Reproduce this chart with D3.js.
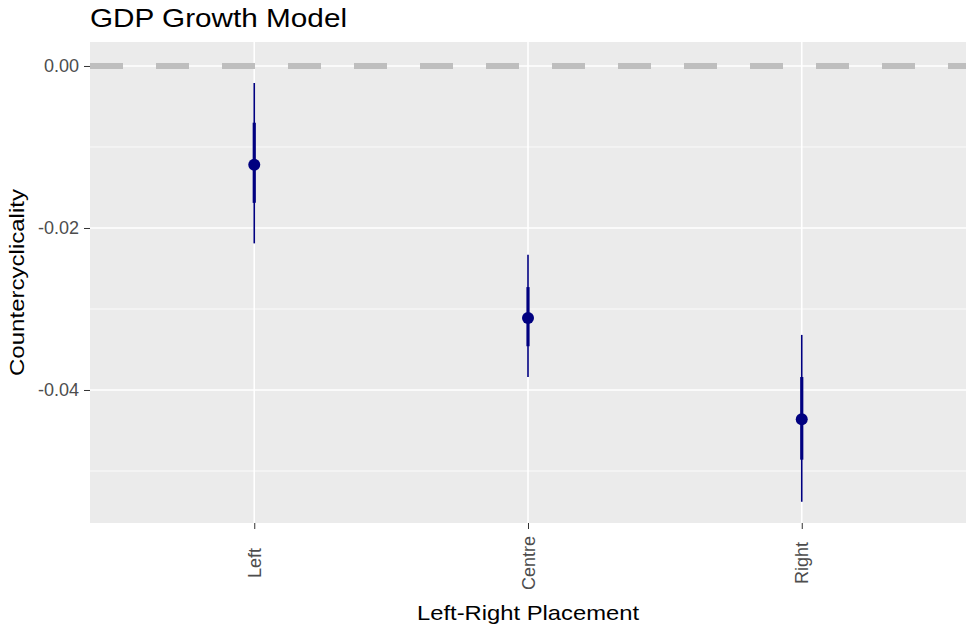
<!DOCTYPE html>
<html>
<head>
<meta charset="utf-8">
<script src="https://cdn.jsdelivr.net/npm/d3@7"></script>
<style>
  body { margin: 0; background: #fff; }
  text { font-family: "Liberation Sans", Arial, sans-serif; }
</style>
</head>
<body>
<svg id="chart" width="967" height="624"></svg>
<script>
// categories and estimates
var categories = ["Left", "Centre", "Right"];
var estimate = [-0.0122, -0.0311, -0.0436];
// wide interval (thin line)
var lowerWide = [-0.0219, -0.0384, -0.0538];
var upperWide = [-0.0021, -0.0233, -0.0332];
// narrow interval (thick line)
var lowerNarrow = [-0.0169, -0.0346, -0.0486];
var upperNarrow = [-0.0070, -0.0273, -0.0384];
var yTicks = [0, -0.02, -0.04];
var yMinor = [-0.01, -0.03, -0.05];

var svg = d3.select("#chart");
var panel = {left: 90, right: 966, top: 42, bottom: 523};

var x = d3.scalePoint()
  .domain(categories)
  .range([panel.left, panel.right])
  .padding(0.6);

var y = d3.scaleLinear()
  .domain([-0.05642, 0.00296])
  .range([panel.bottom, panel.top]);

// panel background
svg.append("rect")
  .attr("x", panel.left).attr("y", panel.top)
  .attr("width", panel.right - panel.left)
  .attr("height", panel.bottom - panel.top)
  .attr("fill", "#EBEBEB");

// minor grid
svg.append("g").selectAll("line")
  .data(yMinor)
  .enter().append("line")
  .attr("x1", panel.left).attr("x2", panel.right)
  .attr("y1", function (d) { return y(d); })
  .attr("y2", function (d) { return y(d); })
  .attr("stroke", "#fff").attr("stroke-width", 0.8);

// major grid
svg.append("g").selectAll("line")
  .data(yTicks)
  .enter().append("line")
  .attr("x1", panel.left).attr("x2", panel.right)
  .attr("y1", function (d) { return y(d); })
  .attr("y2", function (d) { return y(d); })
  .attr("stroke", "#fff").attr("stroke-width", 1.6);

svg.append("g").selectAll("line")
  .data(categories)
  .enter().append("line")
  .attr("y1", panel.top).attr("y2", panel.bottom)
  .attr("x1", function (d) { return x(d); })
  .attr("x2", function (d) { return x(d); })
  .attr("stroke", "#fff").attr("stroke-width", 1.6);

// reference line at zero
svg.append("line")
  .attr("x1", panel.left).attr("x2", panel.right)
  .attr("y1", y(0)).attr("y2", y(0))
  .attr("stroke", "#BEBEBE")
  .attr("stroke-width", 6)
  .attr("stroke-dasharray", "33,33");

// y axis
var yAxis = d3.axisLeft(y)
  .tickValues(yTicks)
  .tickFormat(d3.format(".2f"))
  .tickSize(6)
  .tickPadding(5);

var gy = svg.append("g")
  .attr("transform", "translate(" + panel.left + ",0)")
  .call(yAxis);
gy.select(".domain").remove();
gy.selectAll(".tick line").attr("stroke", "#333").attr("stroke-width", 1);
gy.selectAll(".tick text")
  .attr("fill", "#4D4D4D")
  .style("font-size", "18px")
  .text(function (d) { return d3.format(".2f")(d).replace("−", "-"); });

// x axis
var xAxis = d3.axisBottom(x).tickSize(6).tickPadding(0);
var gx = svg.append("g")
  .attr("transform", "translate(0," + panel.bottom + ")")
  .call(xAxis);
gx.select(".domain").remove();
gx.selectAll(".tick line").attr("stroke", "#333").attr("stroke-width", 1);
gx.selectAll(".tick text")
  .attr("fill", "#4D4D4D")
  .style("font-size", "18px")
  .attr("text-anchor", "middle")
  .attr("dy", null)
  .attr("y", 0)
  .attr("transform", "translate(6,40) rotate(-90)");

// intervals
var idx = d3.range(categories.length);

svg.append("g").selectAll("line")
  .data(idx)
  .enter().append("line")
  .attr("x1", function (i) { return x(categories[i]); })
  .attr("x2", function (i) { return x(categories[i]); })
  .attr("y1", function (i) { return y(upperWide[i]); })
  .attr("y2", function (i) { return y(lowerWide[i]); })
  .attr("stroke", "#000080")
  .attr("stroke-width", 1.6);

svg.append("g").selectAll("line")
  .data(idx)
  .enter().append("line")
  .attr("x1", function (i) { return x(categories[i]); })
  .attr("x2", function (i) { return x(categories[i]); })
  .attr("y1", function (i) { return y(upperNarrow[i]); })
  .attr("y2", function (i) { return y(lowerNarrow[i]); })
  .attr("stroke", "#000080")
  .attr("stroke-width", 3.2);

svg.append("g").selectAll("circle")
  .data(idx)
  .enter().append("circle")
  .attr("cx", function (i) { return x(categories[i]); })
  .attr("cy", function (i) { return y(estimate[i]); })
  .attr("r", 6)
  .attr("fill", "#000080");

// titles
svg.append("text")
  .attr("x", 90).attr("y", 27)
  .attr("textLength", 257)
  .attr("lengthAdjust", "spacingAndGlyphs")
  .style("font-size", "26px")
  .attr("fill", "#000")
  .text("GDP Growth Model");

svg.append("text")
  .attr("x", (panel.left + panel.right) / 2).attr("y", 620)
  .attr("text-anchor", "middle")
  .attr("textLength", 222)
  .attr("lengthAdjust", "spacingAndGlyphs")
  .style("font-size", "21px")
  .attr("fill", "#000")
  .text("Left-Right Placement");

svg.append("text")
  .attr("transform", "translate(24," + ((panel.top + panel.bottom) / 2) + ") rotate(-90)")
  .attr("text-anchor", "middle")
  .attr("textLength", 187)
  .attr("lengthAdjust", "spacingAndGlyphs")
  .style("font-size", "20px")
  .attr("fill", "#000")
  .text("Countercyclicality");
</script>
</body>
</html>
